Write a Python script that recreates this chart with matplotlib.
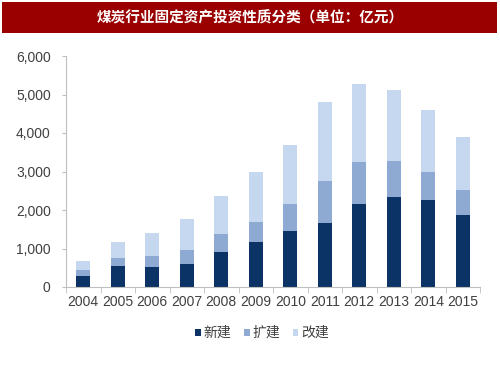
import matplotlib
matplotlib.use("Agg")
import matplotlib.pyplot as plt
from matplotlib.patches import Rectangle
import numpy as np

plt.rcParams['font.family'] = ['Noto Sans CJK SC', 'DejaVu Sans']

years = ['2004', '2005', '2006', '2007', '2008', '2009', '2010', '2011', '2012', '2013', '2014', '2015']
new_build = [286, 545, 520, 605, 900, 1170, 1465, 1660, 2155, 2330, 2260, 1860]
expansion = [156, 200, 285, 365, 470, 530, 690, 1090, 1090, 950, 720, 660]
renovation = [233, 415, 590, 785, 985, 1280, 1545, 2045, 2020, 1835, 1610, 1385]
series_names = ['新建', '扩建', '改建']
colors = ['#0B3366', '#8EAAD2', '#C6D8EF']
title = '煤炭行业固定资产投资性质分类（单位：亿元）'

fig = plt.figure(figsize=(5, 3.75), dpi=100)
fig.patch.set_facecolor('white')

# title bar
fig.patches.append(Rectangle((2/500, 1 - 33/375), 495/500, 31/375, transform=fig.transFigure,
                             facecolor='#9A0000', edgecolor='none'))
fig.text(0.5, 1 - 17.5/375, title, color='white', fontsize=10.5, fontweight='bold',
         ha='center', va='center')

ax = fig.add_axes([66/500, 1 - 287/375, 414/500, 231/375])
x = np.arange(len(years))
w = 0.4
b1 = np.array(new_build)
b2 = b1 + np.array(expansion)
ax.bar(x, new_build, w, color=colors[0], label=series_names[0])
ax.bar(x, expansion, w, bottom=b1, color=colors[1], label=series_names[1])
ax.bar(x, renovation, w, bottom=b2, color=colors[2], label=series_names[2])

ax.set_xlim(-0.5, len(years) - 0.5)
ax.set_ylim(0, 6000)
ax.set_yticks(np.arange(0, 6001, 1000))
ax.set_yticklabels([f'{v:,}' for v in range(0, 6001, 1000)], family='Liberation Sans')
ax.set_xticks(x)
ax.set_xticklabels(years, family='Liberation Sans')
ax.set_xticks(np.arange(-0.5, len(years), 1), minor=True)
ax.tick_params(axis='x', which='major', length=0, labelsize=10, colors='#404040', pad=6)
ax.tick_params(axis='x', which='minor', length=4, color='#BFBFBF', direction='out')
ax.tick_params(axis='y', length=3, color='#BFBFBF', labelsize=10, labelcolor='#404040', pad=8)
for s in ['top', 'right']:
    ax.spines[s].set_visible(False)
for s in ['left', 'bottom']:
    ax.spines[s].set_color('#BFBFBF')

leg = fig.legend(loc='center', bbox_to_anchor=(262/500, 1 - 333/375), ncol=3, frameon=False,
                 fontsize=10, handlelength=0.4, handleheight=0.4, handletextpad=0.2,
                 columnspacing=0.9)
for t in leg.get_texts():
    t.set_color('#404040')

fig.savefig('out.png', dpi=100)
